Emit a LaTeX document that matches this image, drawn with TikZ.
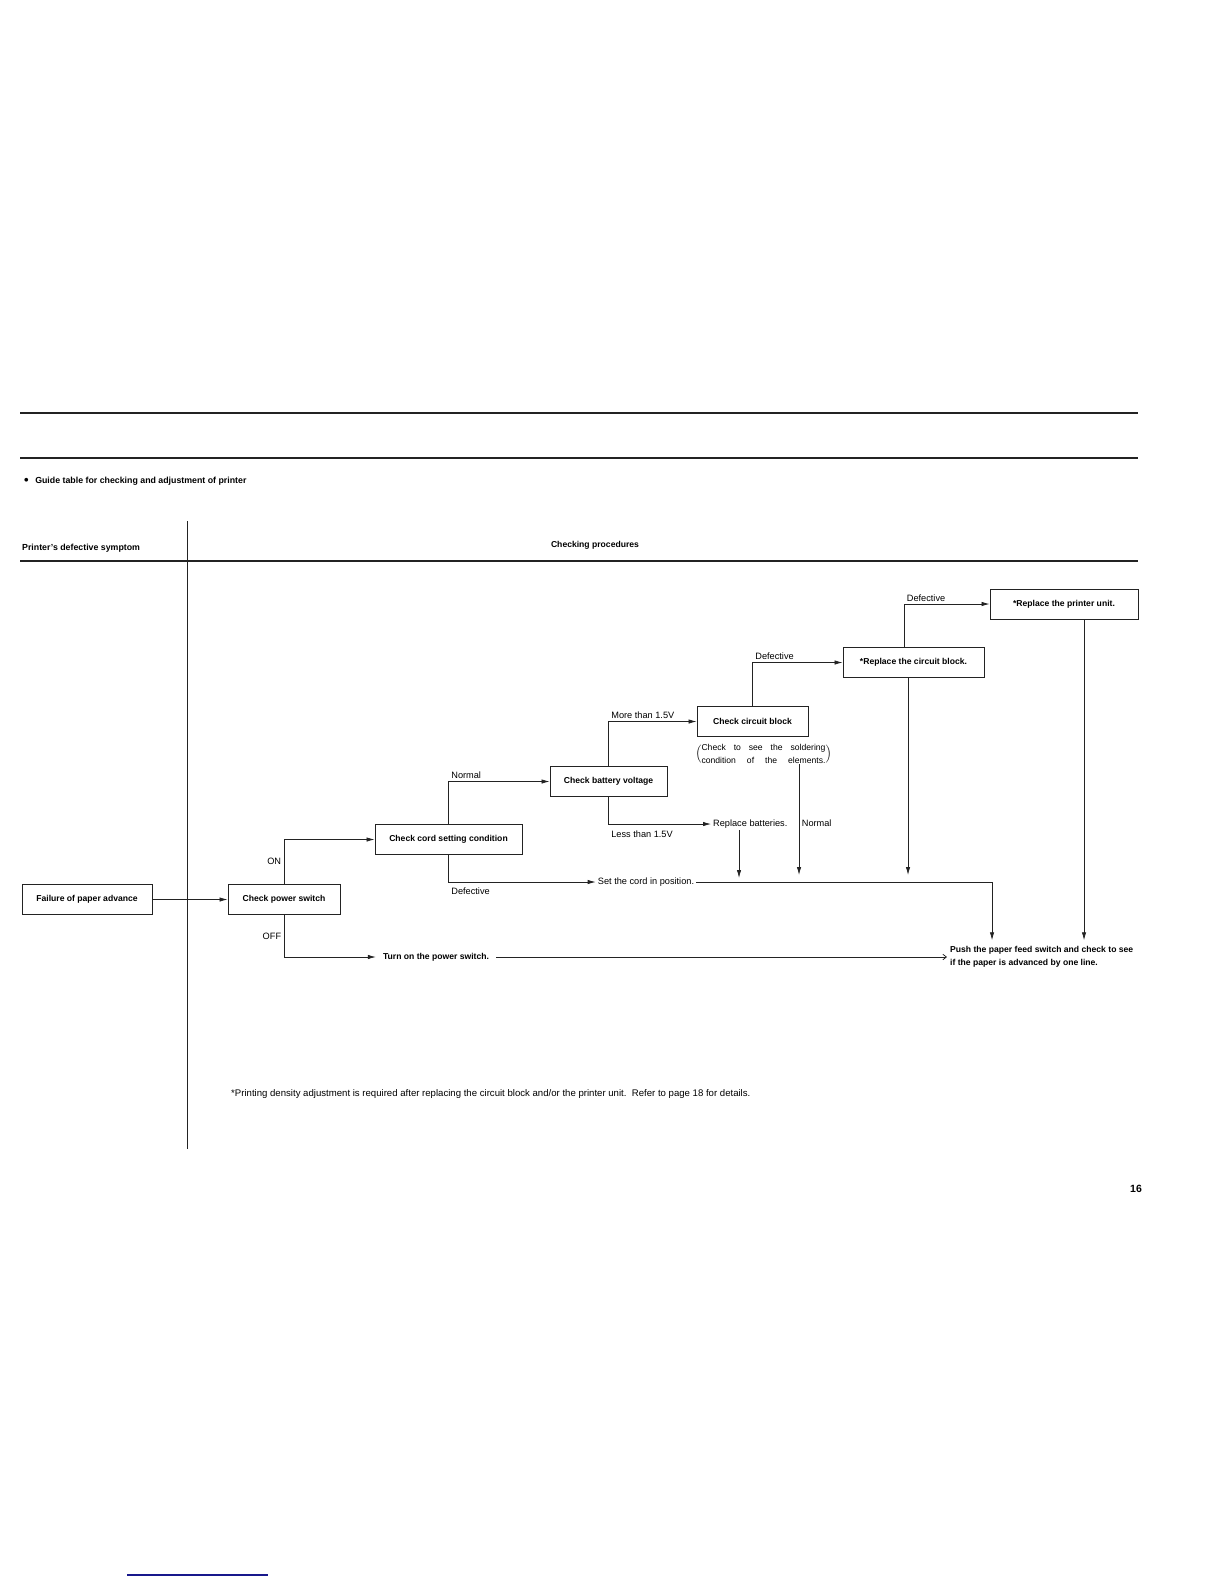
\documentclass[tikz,border=0pt]{standalone}
\usepackage{fontspec}
\setmainfont{Liberation Sans}
\usepackage{tikz}
\usetikzlibrary{arrows.meta,positioning}
\definecolor{inkgray}{RGB}{35,35,35}
\definecolor{scanblue}{RGB}{24,24,140}
\newcommand{\cboxfont}{\bfseries\fontsize{8.6}{13}\selectfont}
\newcommand{\clblfont}{\fontsize{9.2}{11}\selectfont}
\tikzset{
  cbox/.style={rectangle, draw=inkgray, line width=0.9pt, minimum height=30pt, align=center, font=\cboxfont, inner sep=3pt},
  cstep/.style={font=\clblfont, inner sep=2pt},
  cstepbf/.style={font=\cboxfont, inner sep=3pt},
  clabel/.style={font=\clblfont, inner sep=2.5pt},
  cnote/.style={font=\fontsize{8.6}{13.5}\selectfont, inner sep=0pt},
  carrow/.style={-{Latex[length=8pt,width=4.4pt]}, line width=0.75pt, draw=inkgray},
  cpush/.style={-{Straight Barb[length=3.5pt,width=5.5pt]}, line width=0.75pt, draw=inkgray},
  crule/.style={line width=1.2pt, draw=inkgray},
  chead/.style={font=\bfseries\fontsize{8.8}{11}\selectfont, inner sep=0pt}
}

\begin{document}
\begin{tikzpicture}[x=1pt, y=-1pt]
\useasboundingbox (0,0) rectangle (1224,1584);
% page rules and headings
\draw[crule] (20,413) -- (1138,413);
\draw[crule] (20,458) -- (1138,458);
\draw[crule] (20,561) -- (1138,561);
\draw[crule, line width=1pt] (187,521) -- (187,1149);
\node[chead, anchor=west] (guide) at (24,481) {\raisebox{-1.6pt}{\fontsize{13}{13}\selectfont\textbullet}\hspace{6.5pt}Guide table for checking and adjustment of printer};
\node[chead, anchor=west] (symhead) at (22,548) {Printer's defective symptom};
\node[chead, font=\cboxfont] (prochead) at (595,545) {Checking procedures};

\node[cbox, minimum width=130pt] (fail) at (87,899.5) {Failure of paper advance};
\node[cbox, minimum width=112pt] (power) at (284,899.5) {Check power switch};
\node[cbox, minimum width=147pt] (cord) at (448.5,839.5) {Check cord setting condition};
\node[cbox, minimum width=117pt] (batt) at (608.5,781.5) {Check battery voltage};
\node[cbox, minimum width=111pt] (circ) at (752.5,721.5) {Check circuit block};
\node[cbox, minimum width=141pt] (rcb) at (913.5,662.5) {*Replace the circuit block.};
\node[cbox, minimum width=148pt] (rpu) at (1064,604) {*Replace the printer unit.};

\node[cnote] (solder) at (763.5,754) {$\left(\vcenter{\hbox{\parbox{124pt}{Check\hfill to\hfill see\hfill the\hfill soldering\\condition\hfill of\hfill the\hfill elements.}}}\right)$};
\node[cstep, anchor=west] (replbat) at (711,824) {Replace batteries.};
\node[cstep] (setcord) at (646,882) {Set the cord in position.};
\node[cstepbf, inner xsep=7pt] (turnon) at (436,957) {Turn on the power switch.};
\node[cstepbf, anchor=west, align=left] (push) at (947,957) {Push the paper feed switch and check to see\\if the paper is advanced by one line.};

\draw[carrow] (fail) -- (power);
\draw[carrow] (power.north) |- node[clabel, pos=0.25, left] {ON} (cord.west);
\draw[carrow] (power.south) |- node[clabel, pos=0.25, left] {OFF} (turnon.west);
\draw[carrow] (cord.north) |- node[clabel, pos=0.5, anchor=south west] {Normal} (batt.west);
\draw[carrow] (cord.south) |- node[clabel, pos=0.5, anchor=north west, yshift=-3pt] {Defective} (setcord.west);
\draw[carrow] (batt.north) |- node[clabel, pos=0.5, anchor=south west] {More than 1.5V} (circ.west);
\draw[carrow] (batt.south) |- node[clabel, pos=0.5, anchor=north west, yshift=-4pt] {Less than 1.5V} (replbat.west);
\draw[carrow] (circ.north) |- node[clabel, pos=0.5, anchor=south west] {Defective} (rcb.west);
\draw[carrow] ([xshift=-9.5pt]rcb.north) |- node[clabel, pos=0.5, anchor=south west] {Defective} (rpu.west);

\draw[carrow, shorten >=4pt] ([xshift=28pt]replbat.south west) -- ([xshift=28pt]replbat.south west |- setcord.east);
\draw[carrow, shorten >=7pt] ([xshift=35.5pt]solder.south) -- node[clabel, right] {Normal} ([xshift=35.5pt]solder.south |- setcord.east);
\draw[carrow, shorten >=7pt] ([xshift=-5.5pt]rcb.south) -- ([xshift=-5.5pt]rcb.south |- setcord.east);
\draw[carrow, shorten >=3pt] (setcord.east) -| ([xshift=45pt]push.north west);
\draw[carrow, shorten >=3pt] ([xshift=20pt]rpu.south) -- ([xshift=20pt]rpu.south |- push.north);
\draw[cpush] (turnon.east) -- (turnon.east -| push.west);

\node[cstep, font=\fontsize{9.6}{11}\selectfont, anchor=west] (footnote) at (229,1094) {*Printing density adjustment is required after replacing the circuit block and/or the printer unit.\ \ Refer to page 18 for details.};
\node[chead, font=\bfseries\fontsize{10.5}{12}\selectfont] (pagenum) at (1136,1189) {16};
\draw[scanblue, line width=1.5pt] (127,1575) -- (268,1575);
\end{tikzpicture}
\end{document}
